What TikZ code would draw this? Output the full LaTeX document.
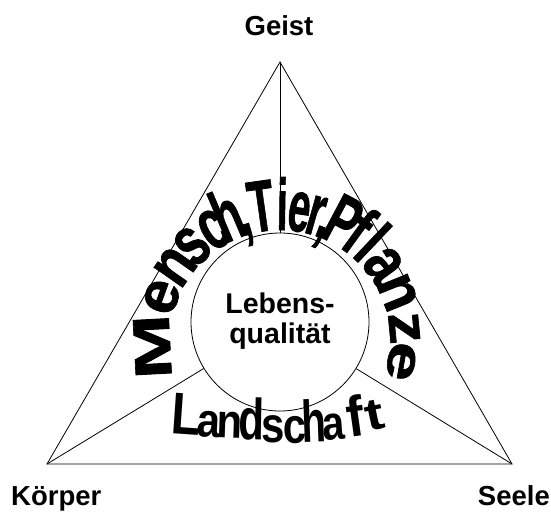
\documentclass[tikz,border=0pt]{standalone}
\usepackage{fontspec}
\setmainfont{Liberation Sans}
\newfontfamily\wafont{Liberation Sans}[BoldFeatures={FakeBold=1.2}]
\usepackage{graphicx}
\newcommand{\wl}[3]{\scalebox{#2}[#3]{#1}}
\begin{document}
\begin{tikzpicture}[x=1pt,y=1pt,
  edge/.style={line width=0.8pt},
  lab/.style={font=\bfseries\fontsize{27.5}{32}\selectfont, inner sep=0, anchor=base},
  labc/.style={font=\bfseries\fontsize{28.5}{32}\selectfont, inner sep=0, anchor=base},
  wm/.style={anchor=base, inner sep=0, outer sep=0, font=\wafont\bfseries\fontsize{10}{12}\selectfont},
  wr/.style={anchor=base, inner sep=0, outer sep=0, font=\bfseries\fontsize{10}{12}\selectfont}]
\useasboundingbox (0,0) rectangle (551,515);
\coordinate (A) at (280,453);
\coordinate (B) at (47,51);
\coordinate (Cc) at (512,51);
\coordinate (Ctr) at (280,175);
\node[draw, circle, minimum size=178pt, inner sep=0pt, edge] (lc) at (280,193) {};
\draw[edge] (A) -- (B) -- (Cc) -- cycle;
\draw[edge] (A) -- (lc);
\draw[edge] (B) -- (lc);
\draw[edge] (Cc) -- (lc);
% labels
\node[lab] (geist) at (279,479) {Geist};
\node[lab, anchor=base west] (koerper) at (11,10) {Körper};
\node[lab, anchor=base east] (seele) at (550,10) {Seele};
\node[labc] (lq1) at (280,202) {Lebens-};
\node[labc] (lq2) at (280,172) {qualität};
% Mensch, Tier, Pflanze
\node[wm, rotate=93]  (m1)  at ([shift={(183:110pt)}]Ctr) {\wl{M}{7.8}{5.2}};
\node[wm, rotate=70]  (m2)  at ([shift={(160:110pt)}]Ctr) {\wl{e}{6.0}{6.0}};
\node[wm, rotate=55]  (m3)  at ([shift={(145:110pt)}]Ctr) {\wl{n}{5.4}{6.6}};
\node[wm, rotate=43]  (m4)  at ([shift={(133:110pt)}]Ctr) {\wl{s}{5.0}{7.0}};
\node[wm, rotate=31]  (m5)  at ([shift={(121:110pt)}]Ctr) {\wl{c}{4.7}{7.2}};
\node[wm, rotate=23]  (m6)  at ([shift={(113:110pt)}]Ctr) {\wl{h}{4.5}{7.3}};
\node[wm, rotate=16.5] (m7) at ([shift={(106.5:110pt)}]Ctr) {\wl{,}{4.5}{7.3}};
\node[wm, rotate=8]   (m8)  at ([shift={(98:110pt)}]Ctr)  {\wl{T}{4.3}{7.3}};
\node[wm, rotate=-1]  (m9)  at ([shift={(89:110pt)}]Ctr)  {\wl{i}{4.0}{7.3}};
\node[wm, rotate=-8.5] (m10) at ([shift={(81.5:110pt)}]Ctr) {\wl{e}{4.0}{7.3}};
\node[wm, rotate=-16] (m11) at ([shift={(74:110pt)}]Ctr)  {\wl{r}{4.1}{7.3}};
\node[wm, rotate=-20.5] (m12) at ([shift={(69.5:110pt)}]Ctr) {\wl{,}{4.3}{7.3}};
\node[wm, rotate=-28] (m13) at ([shift={(62:110pt)}]Ctr)  {\wl{P}{4.5}{7.2}};
\node[wm, rotate=-36] (m14) at ([shift={(54:110pt)}]Ctr)  {\wl{f}{4.6}{7.1}};
\node[wm, rotate=-43.5] (m15) at ([shift={(46.5:110pt)}]Ctr) {\wl{l}{4.8}{6.9}};
\node[wm, rotate=-54] (m16) at ([shift={(36:110pt)}]Ctr)  {\wl{a}{5.2}{6.7}};
\node[wm, rotate=-68] (m17) at ([shift={(22:110pt)}]Ctr)  {\wl{n}{5.7}{6.2}};
\node[wm, rotate=-84.5] (m18) at ([shift={(5.5:110pt)}]Ctr) {\wl{z}{6.3}{5.6}};
\node[wm, rotate=-100] (m19) at ([shift={(-10:110pt)}]Ctr) {\wl{e}{7.0}{5.0}};
% Landschaft
\node[wr, rotate=-4] (l1)  at (185,80) {\wl{L}{4.8}{5.9}};
\node[wr, rotate=-3] (l2)  at (208,78) {\wl{a}{4.2}{4.8}};
\node[wr, rotate=-2] (l3)  at (229,77) {\wl{n}{4.2}{4.8}};
\node[wr, rotate=-1] (l4)  at (251,75) {\wl{d}{4.2}{5.8}};
\node[wr, rotate=0]  (l5)  at (273,73) {\wl{s}{4.2}{5.0}};
\node[wr, rotate=1]  (l6)  at (295,72) {\wl{c}{4.2}{5.0}};
\node[wr, rotate=2]  (l7)  at (315,73) {\wl{h}{4.0}{5.9}};
\node[wr, rotate=4]  (l8)  at (335,75) {\wl{a}{4.0}{4.8}};
\node[wr, rotate=8]  (l9)  at (358,79) {\wl{f}{5.2}{5.7}};
\node[wr, rotate=12] (l10) at (378,85) {\wl{t}{5.6}{4.5}};
\end{tikzpicture}
\end{document}
